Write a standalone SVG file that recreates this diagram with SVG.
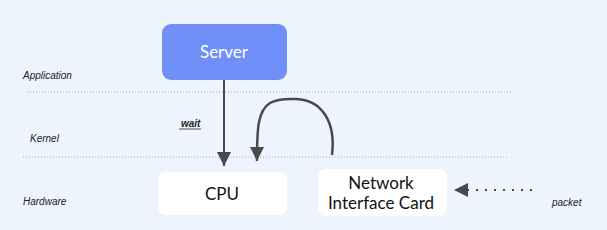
<svg xmlns="http://www.w3.org/2000/svg" width="607" height="230" viewBox="0 0 607 230">
<defs>
<marker id="ah" viewBox="0 0 10 10" refX="10" refY="5" markerWidth="14" markerHeight="14" markerUnits="userSpaceOnUse" orient="auto">
<path d="M0,0 L10,5 L0,10 Z" fill="#4a4a4a"/>
</marker>
<style>
.lbl{font-family:"Liberation Sans",Arial,sans-serif;font-style:italic;font-size:10px;fill:#222}
.box{fill:#ffffff}
.btxt{font-family:Lato,"Open Sans",sans-serif;font-size:17px;fill:#111;text-anchor:middle}
.sep{stroke:#a8b0c0;stroke-width:1;stroke-dasharray:1 2;fill:none}
.con{stroke:#4a4a4a;stroke-width:2;fill:none}
</style>
</defs>
<rect width="607" height="230" fill="#eef4fe"/>
<g id="layers">
<line class="sep" x1="27" y1="92" x2="512" y2="92"/>
<line class="sep" x1="23" y1="157" x2="508" y2="157"/>
<text class="lbl" x="23" y="79">Application</text>
<text class="lbl" x="30" y="142">Kernel</text>
<text class="lbl" x="23" y="205">Hardware</text>
</g>
<g id="server">
<rect x="162" y="24" width="125" height="56" rx="9" fill="#7090f8"/>
<text class="btxt" x="224" y="58" style="fill:#ffffff">Server</text>
</g>
<g id="cpu">
<rect class="box" x="158" y="172" width="129" height="43" rx="8"/>
<text class="btxt" x="222" y="200">CPU</text>
</g>
<g id="nic">
<rect class="box" x="318" y="169" width="129" height="47" rx="8"/>
<text class="btxt" x="381" y="189">Network</text>
<text class="btxt" x="381" y="209">Interface Card</text>
</g>
<g id="connectors">
<line class="con" x1="224" y1="80" x2="224" y2="166" marker-end="url(#ah)"/>
<path class="con" style="stroke-width:2.5" d="M332,155 C336,122 322,100 296,99 C272,98 263,103 259,122 C257,132 257,145 257,161" marker-end="url(#ah)"/>
<line class="con" x1="532" y1="190" x2="454" y2="190" style="stroke-dasharray:2 7;stroke-width:2.2" marker-end="url(#ah)"/>
<text class="lbl" x="181" y="127" style="font-weight:bold">wait</text>
<line x1="179" y1="129" x2="201" y2="129" stroke="#222" stroke-width="0.8"/>
<text class="lbl" x="552" y="206">packet</text>
</g>
</svg>
